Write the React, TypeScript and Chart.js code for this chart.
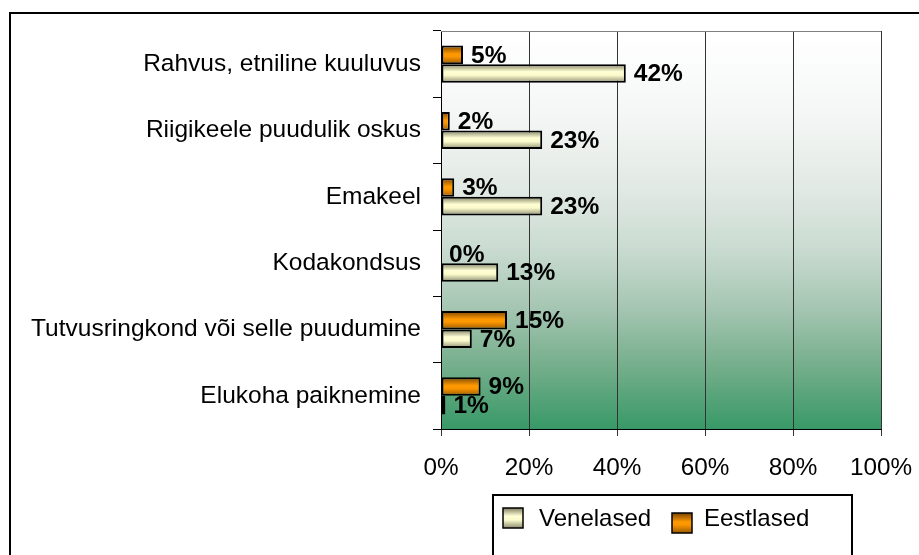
import { useEffect, useRef } from "react";
import { Chart, registerables } from "chart.js";

Chart.register(...registerables);

const categories = [
  "Rahvus, etniline kuuluvus",
  "Riigikeele puudulik oskus",
  "Emakeel",
  "Kodakondsus",
  "Tutvusringkond või selle puudumine",
  "Elukoha paiknemine",
];
const eestlased = [5, 2, 3, 0, 15, 9];
const venelased = [42, 23, 23, 13, 7, 1];
const seriesNames = ["Eestlased", "Venelased"];
const legendOrder = [1, 0];
const xMin = 0;
const xMax = 100;
const xStep = 20;

const FONT = "'Liberation Sans', Arial, Helvetica, sans-serif";
const CAT_PCT = 0.56;

function makeGradient(c: CanvasRenderingContext2D, top: number, bottom: number, kind: number) {
  const g = c.createLinearGradient(0, top, 0, bottom);
  if (kind === 0) {
    g.addColorStop(0, "#7a4400");
    g.addColorStop(0.45, "#ff9a00");
    g.addColorStop(0.6, "#fb9600");
    g.addColorStop(1, "#9a5a00");
  } else {
    g.addColorStop(0, "#7e7e62");
    g.addColorStop(0.4, "#ffffd4");
    g.addColorStop(0.6, "#fafacc");
    g.addColorStop(1, "#8c8c70");
  }
  return g;
}

const solid = ["#ff9900", "#ffffcc"];

function barFill(ctx: any) {
  const chart = ctx.chart;
  const yScale = chart.scales?.y;
  if (!yScale || ctx.dataIndex === undefined) return solid[ctx.datasetIndex ?? 0];
  const n = chart.data.labels.length;
  const band = yScale.height / n;
  const center = yScale.getPixelForValue(ctx.dataIndex);
  const nds = chart.data.datasets.length;
  const chunk = (band * CAT_PCT) / nds;
  const top = center - (band * CAT_PCT) / 2 + chunk * ctx.datasetIndex;
  if (!isFinite(top)) return solid[ctx.datasetIndex];
  return makeGradient(chart.ctx, top, top + chunk, ctx.datasetIndex);
}

const backgroundPlugin = {
  id: "bgPlugin",
  beforeDraw(chart: any) {
    const c = chart.ctx;
    const a = chart.chartArea;
    c.save();
    c.fillStyle = "#ffffff";
    c.fillRect(0, 0, chart.width, chart.height);
    const g = c.createLinearGradient(0, a.top, 0, a.bottom);
    g.addColorStop(0, "#ffffff");
    g.addColorStop(0.2, "#f5f7f6");
    g.addColorStop(0.4, "#e1e9e4");
    g.addColorStop(0.55, "#c9dbd0");
    g.addColorStop(0.7, "#a4c5b1");
    g.addColorStop(0.85, "#72ad89");
    g.addColorStop(1, "#389967");
    c.fillStyle = g;
    c.fillRect(a.left, a.top, a.right - a.left, a.bottom - a.top);
    c.restore();
  },
  afterDraw(chart: any) {
    const c = chart.ctx;
    const a = chart.chartArea;
    c.save();
    // plot top border
    c.strokeStyle = "#808080";
    c.lineWidth = 1;
    c.beginPath();
    c.moveTo(a.left, a.top + 0.5);
    c.lineTo(a.right, a.top + 0.5);
    c.stroke();
    // outer frame
    c.strokeStyle = "#000000";
    c.lineWidth = 2;
    c.strokeRect(10, 13, 1000, 1000);
    // legend box
    c.fillStyle = "#ffffff";
    c.fillRect(493, 495, 359, 100);
    c.strokeRect(493, 495, 359, 100);
    const swatches = [
      { x: 503, y: 508, s: 20, tx: 539 },
      { x: 672, y: 513, s: 20, tx: 704 },
    ];
    c.font = `24px ${FONT}`;
    c.textBaseline = "middle";
    c.textAlign = "left";
    legendOrder.forEach((di, k) => {
      const sw = swatches[k];
      c.fillStyle = makeGradient(c, sw.y, sw.y + sw.s, di);
      c.fillRect(sw.x, sw.y, sw.s, sw.s);
      c.lineWidth = 1.5;
      c.strokeStyle = "#000";
      c.strokeRect(sw.x, sw.y, sw.s, sw.s);
      c.fillStyle = "#000";
      c.fillText(chart.data.datasets[di].label, sw.tx, 519);
    });
    c.restore();
  },
};

const dataLabelPlugin = {
  id: "dataLabels",
  afterDatasetsDraw(chart: any) {
    const c = chart.ctx;
    c.save();
    c.font = `bold 24.5px ${FONT}`;
    c.fillStyle = "#000";
    c.textAlign = "left";
    c.textBaseline = "middle";
    chart.data.datasets.forEach((ds: any, di: number) => {
      const meta = chart.getDatasetMeta(di);
      meta.data.forEach((el: any, i: number) => {
        c.fillText(ds.data[i] + "%", el.x + 8, el.y + 1);
      });
    });
    c.restore();
  },
};

export default function App() {
  const ref = useRef<HTMLCanvasElement | null>(null);
  useEffect(() => {
    if (!ref.current) return;
    const chart = new Chart(ref.current, {
      type: "bar",
      data: {
        labels: categories,
        datasets: [
          {
            label: seriesNames[0],
            data: eestlased,
            backgroundColor: barFill as any,
            borderColor: "#000000",
            borderWidth: 2,
            borderSkipped: false,
            categoryPercentage: CAT_PCT,
            barPercentage: 1,
          },
          {
            label: seriesNames[1],
            data: venelased,
            backgroundColor: barFill as any,
            borderColor: "#000000",
            borderWidth: 2,
            borderSkipped: false,
            categoryPercentage: CAT_PCT,
            barPercentage: 1,
          },
        ],
      },
      options: {
        indexAxis: "y",
        responsive: false,
        animation: false,
        layout: { padding: { left: 0, top: 31, right: 38, bottom: 0 } },
        plugins: {
          legend: { display: false },
          tooltip: { enabled: false },
        },
        scales: {
          x: {
            min: xMin,
            max: xMax,
            ticks: {
              stepSize: xStep,
              callback: (v: any) => v + "%",
              color: "#000",
              font: { size: 24.3, family: FONT },
              padding: 18,
              maxRotation: 0,
            },
            grid: { color: "#333333", lineWidth: 1, tickLength: 7, drawOnChartArea: true },
            border: { color: "#000000", width: 1 },
            afterFit: (s: any) => {
              s.height = 126;
              s.paddingLeft = 0;
              s.paddingRight = 0;
              s.paddingTop = 0;
              s.paddingBottom = 0;
            },
          },
          y: {
            ticks: {
              color: "#000",
              font: { size: 24.5, family: FONT },
              padding: 12,
              autoSkip: false,
            },
            grid: { offset: true, drawOnChartArea: false, tickLength: 8, color: "#000000" },
            border: { color: "#000000", width: 1 },
            afterFit: (s: any) => {
              s.width = 441;
              s.paddingLeft = 0;
              s.paddingRight = 0;
              s.paddingTop = 0;
              s.paddingBottom = 0;
            },
          },
        },
      },
      plugins: [backgroundPlugin, dataLabelPlugin],
    });
    return () => chart.destroy();
  }, []);
  return (
    <div style={{ position: "fixed", left: 0, top: 0, width: 919, height: 555, overflow: "hidden" }}>
      <canvas ref={ref} width={919} height={555} style={{ display: "block" }} />
    </div>
  );
}
